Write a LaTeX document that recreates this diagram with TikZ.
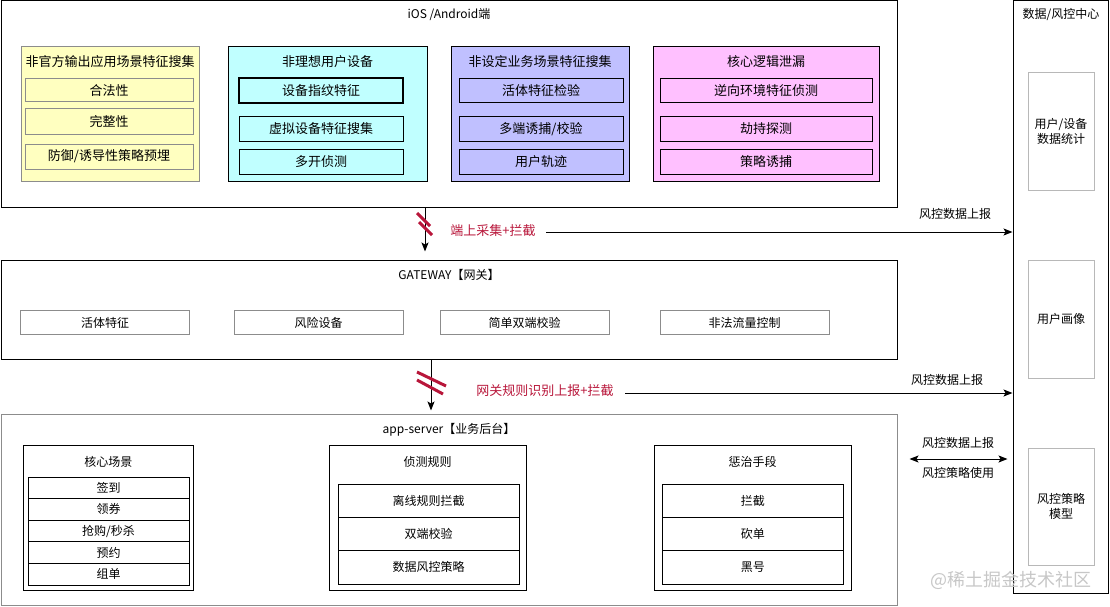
\documentclass[tikz,border=0pt]{standalone}
\usepackage{fontspec}
\setmainfont{Noto Sans CJK SC}
\usetikzlibrary{arrows.meta, positioning}

\definecolor{grpyellow}{HTML}{FFFFC0}
\definecolor{grpcyan}{HTML}{C0FFFF}
\definecolor{grpblue}{HTML}{C0C0FF}
\definecolor{grppink}{HTML}{FFC0FF}
\definecolor{edgegray}{HTML}{8C8C8C}
\definecolor{softgray}{HTML}{B8B8B8}
\definecolor{markred}{HTML}{B8163A}

\begin{document}
\begin{tikzpicture}[
x=1pt, y=-1pt,
line width=1pt,
wh/.style 2 args={minimum width=#1, minimum height=#2},
panel/.style={rectangle, draw=black, inner sep=0pt},
grp/.style={rectangle, draw=black, inner sep=0pt},
cell/.style={rectangle, draw=black, inner sep=0pt, font=\fontsize{13}{15}\selectfont},
smallcell/.style={rectangle, draw=black, inner sep=0pt, font=\fontsize{12}{15}\selectfont},
title/.style={inner sep=0pt, font=\fontsize{12}{15}\selectfont},
grptitle/.style={inner sep=0pt, font=\fontsize{13}{15}\selectfont},
note/.style={inner sep=0pt, font=\fontsize{12}{15}\selectfont},
rednote/.style={inner sep=0pt, text=markred, font=\fontsize{13}{15}\selectfont},
redmark/.style={draw=markred, line width=3pt},
flow/.style={-{Stealth[length=9pt, width=7pt, inset=2pt]}, line width=1pt},
flowboth/.style={{Stealth[length=9pt, width=7pt, inset=2pt]}-{Stealth[length=9pt, width=7pt, inset=2pt]}, line width=1pt}
]
\useasboundingbox (0,0) rectangle (1110,607);

% iOS / Android
\node[panel, wh={896}{206}] (ios) at (449,104) {};
\node[title] (iosT) at (449,15) {iOS /Android端};

\node[grp, draw=edgegray, fill=grpyellow, wh={178}{134}] (gYel) at (110,114) {};
\node[grptitle] (gYelT) at (110,62) {非官方输出应用场景特征搜集};
\node[cell, draw=edgegray, fill=grpyellow, wh={168}{23}] (yel1) at (109,90.5) {合法性};
\node[cell, draw=edgegray, fill=grpyellow, wh={168}{25}] (yel2) at (109,121.5) {完整性};
\node[cell, draw=edgegray, fill=grpyellow, wh={168}{25}] (yel3) at (109,156.5) {防御/诱导性策略预埋};

\node[grp, fill=grpcyan, wh={199}{134}] (gCyan) at (327.5,114) {};
\node[grptitle] (gCyanT) at (327.5,62) {非理想用户设备};
\node[cell, fill=grpcyan, line width=2pt, wh={164}{25}] (cyan1) at (321,90.5) {设备指纹特征};
\node[cell, fill=grpcyan, wh={164}{25}] (cyan2) at (321,128.8) {虚拟设备特征搜集};
\node[cell, fill=grpcyan, wh={164}{25}] (cyan3) at (321,161.8) {多开侦测};

\node[grp, fill=grpblue, wh={178}{134}] (gBlue) at (540,114) {};
\node[grptitle] (gBlueT) at (540,62) {非设定业务场景特征搜集};
\node[cell, fill=grpblue, wh={164}{24}] (blue1) at (541,90.5) {活体特征检验};
\node[cell, fill=grpblue, wh={164}{25}] (blue2) at (541,128.8) {多端诱捕/校验};
\node[cell, fill=grpblue, wh={164}{25}] (blue3) at (541,161.8) {用户轨迹};

\node[grp, fill=grppink, wh={226}{134}] (gPink) at (766,114) {};
\node[grptitle] (gPinkT) at (766,62) {核心逻辑泄漏};
\node[cell, fill=grppink, wh={212}{24}] (pink1) at (766,90.5) {逆向环境特征侦测};
\node[cell, fill=grppink, wh={212}{25}] (pink2) at (766,128.8) {劫持探测};
\node[cell, fill=grppink, wh={212}{25}] (pink3) at (766,161.8) {策略诱捕};

% gateway
\node[panel, wh={896}{99}] (gw) at (449,309.5) {};
\node[title] (gwT) at (449,275) {GATEWAY【网关】};
\node[smallcell, draw=edgegray, wh={169}{24}] (gw1) at (105,322.5) {活体特征};
\node[smallcell, draw=edgegray, wh={169}{24}] (gw2) at (318.5,322.5) {风险设备};
\node[smallcell, draw=edgegray, wh={169}{24}] (gw3) at (524.5,322.5) {简单双端校验};
\node[smallcell, draw=edgegray, wh={169}{24}] (gw4) at (744.5,322.5) {非法流量控制};

% app-server
\node[panel, draw=edgegray, wh={896}{191}] (app) at (449,509.5) {};
\node[title] (appT) at (449,430) {app-server【业务后台】};

\node[grp, wh={170.5}{145}] (scene) at (108.25,517.5) {};
\node[title] (sceneT) at (108.25,462) {核心场景};
\node[smallcell, wh={161}{21.6}] (scene1) at (108.5,487.8) {签到};
\node[smallcell, wh={161}{21.6}] (scene2) at (108.5,509.4) {领券};
\node[smallcell, wh={161}{21.6}] (scene3) at (108.5,531) {抢购/秒杀};
\node[smallcell, wh={161}{21.6}] (scene4) at (108.5,552.6) {预约};
\node[smallcell, wh={161}{21.6}] (scene5) at (108.5,574.2) {组单};

\node[grp, wh={197}{145}] (rule) at (427.5,517.5) {};
\node[title] (ruleT) at (427.5,462) {侦测规则};
\node[smallcell, wh={181}{33.2}] (rule1) at (428.5,501.1) {离线规则拦截};
\node[smallcell, wh={181}{33.2}] (rule2) at (428.5,534.3) {双端校验};
\node[smallcell, wh={181}{33.2}] (rule3) at (428.5,567.4) {数据风控策略};

\node[grp, wh={197}{145}] (punish) at (752.5,517.5) {};
\node[title] (punishT) at (752.5,462) {惩治手段};
\node[smallcell, wh={180.5}{33.2}] (punish1) at (752.75,501.1) {拦截};
\node[smallcell, wh={180.5}{33.2}] (punish2) at (752.75,534.3) {砍单};
\node[smallcell, wh={180.5}{33.2}] (punish3) at (752.75,567.4) {黑号};

% data / risk center
\node[panel, wh={95}{592}] (dc) at (1060.5,297) {};
\node[title] (dcT) at (1061,15) {数据/风控中心};
\node[smallcell, draw=softgray, align=center, wh={66}{117}] (dc1) at (1061,131.5) {用户/设备\\数据统计};
\node[smallcell, draw=softgray, align=center, wh={66}{118}] (dc2) at (1061,319) {用户画像};
\node[smallcell, draw=softgray, align=center, wh={66}{117}] (dc3) at (1061,506.5) {风控策略\\模型};

% flows
\coordinate (down1) at (425,0);
\coordinate (down2) at (431,0);
\draw[flow, shorten >=8pt] (ios.south -| down1) -- (gw.north -| down1);
\draw[flow, shorten >=3pt] (gw.south -| down2) -- (app.north -| down2);
\draw[redmark] (417,213) -- (430,226);
\draw[redmark] (419,222) -- (432,235);
\draw[redmark] (417,372) -- (446,386);
\draw[redmark] (417,380) -- (443,394);
\node[rednote] (lab1) at (493,231) {端上采集+拦截};
\node[rednote] (lab2) at (545,391) {网关规则识别上报+拦截};

\coordinate (rep1) at (546,232);
\coordinate (rep2) at (625,393);
\coordinate (rep3) at (0,459);
\draw[flow] (rep1) -- (rep1 -| dc.west);
\draw[flow] (rep2) -- (rep2 -| dc.west);
\draw[flowboth, shorten <=12pt, shorten >=5pt] (rep3 -| app.east) -- (rep3 -| dc.west);
\node[note] (rep1T) at (955,214) {风控数据上报};
\node[note] (rep2T) at (947,380) {风控数据上报};
\node[note] (rep3T) at (958,443) {风控数据上报};
\node[note] (rep3B) at (958,473) {风控策略使用};

\node[inner sep=0pt, text=black!22, font=\fontsize{18}{20}\selectfont] (wm) at (1011,580) {@稀土掘金技术社区};
\end{tikzpicture}
\end{document}
